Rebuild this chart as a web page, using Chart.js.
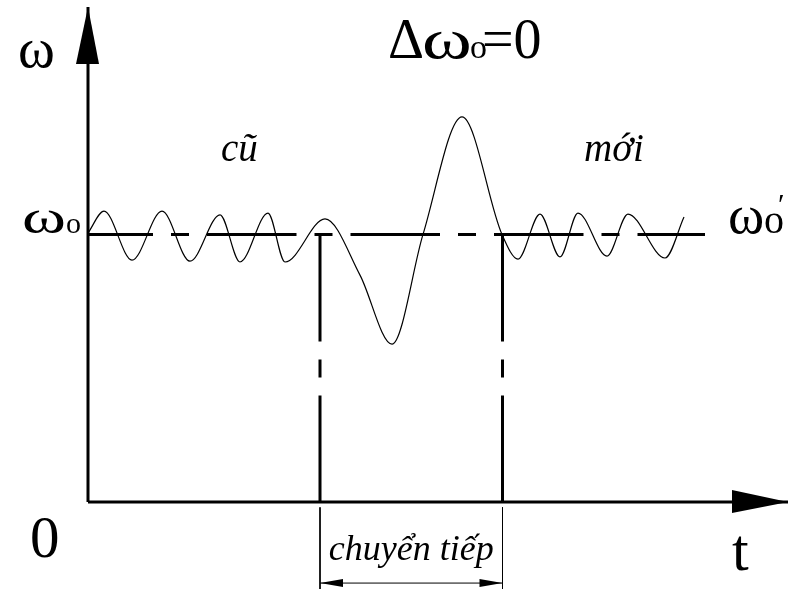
<!DOCTYPE html>
<html>
<head>
<meta charset="utf-8">
<script src="https://cdn.jsdelivr.net/npm/chart.js@4/dist/chart.umd.min.js"></script>
<style>
  body { margin: 0; background: #fff; }
  canvas { display: block; }
</style>
</head>
<body>
<canvas id="transChart" width="794" height="589"></canvas>
<script>
// speed trace: old steady state, transient, new steady state
const curveT = [0, 1.6, 4.4, 7.4, 10.2, 13.2, 15.2, 18.0, 19.7, 23.7, 27.2, 30.4, 33.5, 37.4, 41.4, 43.0, 45.2, 47.2, 49.0, 51.9, 54.0, 57.7, 59.6];
const curveW = [1.005, 1.087, 0.904, 1.087, 0.900, 1.073, 0.897, 1.080, 0.897, 1.058, 0.848, 0.590, 1.0, 1.439, 1.0, 0.908, 1.076, 0.916, 1.080, 0.919, 1.076, 0.912, 1.065];

// transition window and reference level
const transBounds = [23.2, 41.45];
const omegaLevel = 1;
const levelEnd = 61.7;
const tMax = 70;
const wMax = 1.85;
const dimLevel = -0.303;
const extRange = [-0.02, -0.33];

const pts = (xs, ys) => xs.map((x, i) => ({ x, y: ys[i] }));

function seg(data, width, dash, offset) {
  return {
    data,
    borderColor: '#000',
    borderWidth: width,
    borderDash: dash || [],
    borderDashOffset: offset || 0,
    pointRadius: 0,
    tension: 0,
    clip: false
  };
}

const datasets = [
  // axes
  seg(pts([0, 0], [0, wMax]), 3),
  seg(pts([0, tMax], [0, 0]), 3),
  // omega0 reference, dash-dot
  seg(pts([0, levelEnd], [omegaLevel, omegaLevel]), 3, [89.5, 18, 18, 18], 24.5),
  // transition boundaries
  ...transBounds.map(t => seg(pts([t, t], [omegaLevel, 0]), 3, [107, 18, 18, 18])),
  // extension lines and dimension line
  ...transBounds.map(t => seg(pts([t, t], extRange), 1)),
  seg(pts(transBounds, [dimLevel, dimLevel]), 1),
  // the speed curve
  {
    data: pts(curveT, curveW),
    borderColor: '#000',
    borderWidth: 1.2,
    pointRadius: 0,
    cubicInterpolationMode: 'monotone',
    clip: false
  }
];

function tri(ctx, a, b, c) {
  ctx.beginPath();
  ctx.moveTo(a[0], a[1]);
  ctx.lineTo(b[0], b[1]);
  ctx.lineTo(c[0], c[1]);
  ctx.closePath();
  ctx.fill();
}

// sx stretches a glyph sideways (the omegas are drawn wide)
function text(ctx, str, x, y, font, align, sx) {
  ctx.save();
  ctx.font = font;
  ctx.textAlign = align || 'left';
  ctx.translate(x, y);
  ctx.scale(sx || 1, 1);
  ctx.fillText(str, 0, 0);
  ctx.restore();
}

const decorations = {
  id: 'decorations',
  afterDatasetsDraw(chart) {
    const ctx = chart.ctx;
    const xs = chart.scales.x, ys = chart.scales.y;
    const x0 = xs.getPixelForValue(0), y0 = ys.getPixelForValue(0);
    const xEnd = xs.getPixelForValue(tMax), yTop = ys.getPixelForValue(wMax);
    const yLvl = ys.getPixelForValue(omegaLevel);
    ctx.save();
    ctx.fillStyle = '#000';

    // axis arrowheads
    tri(ctx, [x0, yTop], [x0 - 12, yTop + 57], [x0 + 11, yTop + 57]);
    tri(ctx, [xEnd, y0], [xEnd - 56, y0 - 12], [xEnd - 56, y0 + 11]);

    // dimension arrows
    const a = xs.getPixelForValue(transBounds[0]);
    const b = xs.getPixelForValue(transBounds[1]);
    const yd = ys.getPixelForValue(dimLevel);
    tri(ctx, [a, yd], [a + 23, yd - 4], [a + 23, yd + 4]);
    tri(ctx, [b, yd], [b - 23, yd - 4], [b - 23, yd + 4]);

    ctx.textBaseline = 'alphabetic';
    const serif = '"Liberation Serif", "Times New Roman", serif';

    // axis names and origin
    text(ctx, 'ω', 18, 67, '56px ' + serif);
    text(ctx, '0', 30, 557, '59px ' + serif);
    text(ctx, 't', 732, 570, '60px ' + serif);

    // title
    text(ctx, 'Δ', 388, 58, '56px ' + serif);
    text(ctx, 'ω', 422, 58, '56px ' + serif, 'left', 1.35);
    text(ctx, 'o', 470, 58, '34px ' + serif);
    text(ctx, '=0', 482, 58, '56px ' + serif);

    // level labels
    text(ctx, 'ω', 22, yLvl - 1, '46px ' + serif, 'left', 1.45);
    text(ctx, 'o', 66, yLvl - 1, '30px ' + serif);
    text(ctx, 'ω', 728, yLvl - 1, '55px ' + serif);
    text(ctx, 'o', 764, yLvl - 1, '40px ' + serif);
    text(ctx, '′', 778, yLvl - 20, '30px ' + serif);

    // regime labels
    text(ctx, 'cũ', 221, 161, 'italic 39px ' + serif);
    text(ctx, 'mới', 584, 161, 'italic 39px ' + serif);
    text(ctx, 'chuyển tiếp', (a + b) / 2, 560, 'italic 36px ' + serif, 'center');

    ctx.restore();
  }
};

new Chart(document.getElementById('transChart'), {
  type: 'line',
  data: { datasets },
  options: {
    responsive: false,
    animation: false,
    layout: { padding: { left: 88, right: 6, top: 7, bottom: 87 } },
    plugins: { legend: { display: false }, tooltip: { enabled: false } },
    scales: {
      x: { type: 'linear', min: 0, max: tMax, display: false },
      y: { type: 'linear', min: 0, max: wMax, display: false }
    }
  },
  plugins: [decorations]
});
</script>
</body>
</html>
